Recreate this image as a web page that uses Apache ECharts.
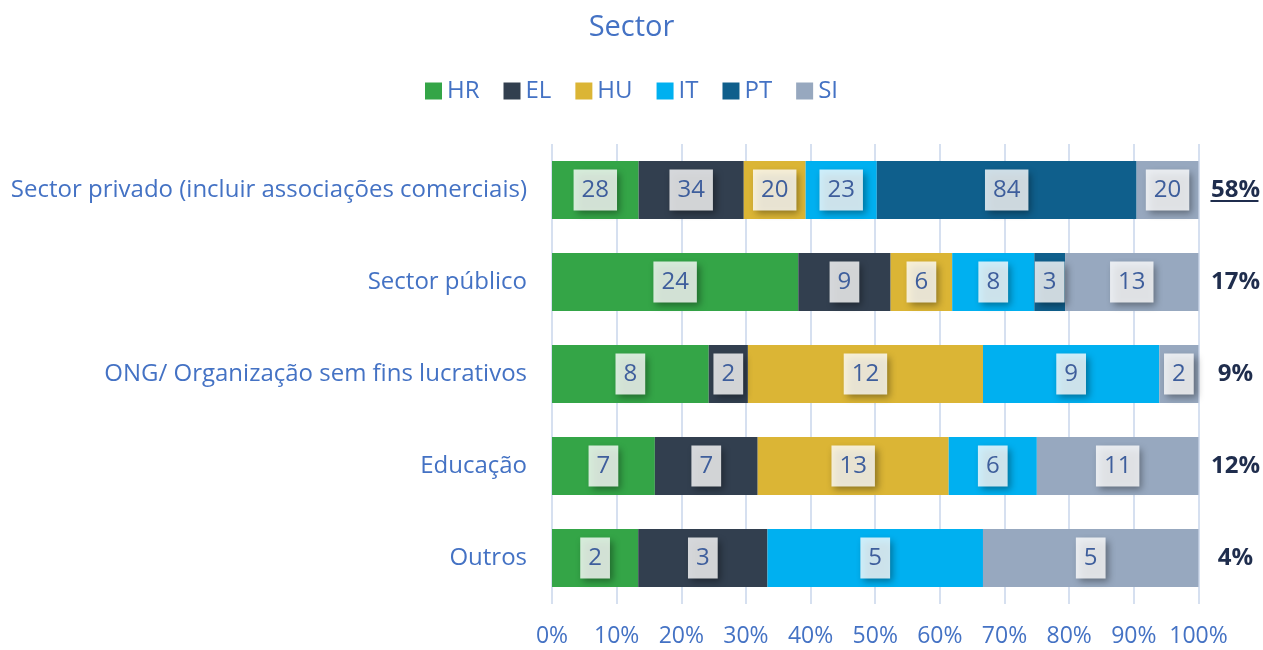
<!DOCTYPE html>
<html>
<head>
<meta charset="utf-8">
<script src="https://cdn.jsdelivr.net/npm/echarts@6/dist/echarts.min.js"></script>
<style>
  html, body { margin: 0; padding: 0; background: #fff; }
  #main { width: 1263px; height: 650px; }
</style>
</head>
<body>
<div id="main"></div>
<script>
var categories = ['Sector privado (incluir associações comerciais)', 'Sector público', 'ONG/ Organização sem fins lucrativos', 'Educação', 'Outros'];
var seriesNames = ['HR', 'EL', 'HU', 'IT', 'PT', 'SI'];
var hr = [28, 24, 8, 7, 2];
var el = [34, 9, 2, 7, 3];
var hu = [20, 6, 12, 13, 0];
var it = [23, 8, 9, 6, 5];
var pt = [84, 3, 0, 0, 0];
var si = [20, 13, 2, 11, 5];
var shareLabels = ['58%', '17%', '9%', '12%', '4%'];
var xTicks = ['0%', '10%', '20%', '30%', '40%', '50%', '60%', '70%', '80%', '90%', '100%'];

var colors = ['#34A547', '#323F4F', '#DBB535', '#00B0F0', '#0F5F8C', '#97A8BF'];
var counts = [hr, el, hu, it, pt, si];
var totals = categories.map(function (c, i) {
  return counts.reduce(function (s, arr) { return s + arr[i]; }, 0);
});

var chartDom = document.getElementById('main');
var myChart = echarts.init(chartDom);
var option;
var font = '"Open Sans", "Noto Sans", sans-serif';

var series = seriesNames.map(function (name, k) {
  return {
    name: name,
    type: 'bar',
    stack: 'total',
    barCategoryGap: '37%',
    itemStyle: { color: colors[k] },
    data: counts[k].map(function (v, i) {
      return { value: v / totals[i] * 100, count: v, label: { show: v > 0 } };
    }),
    label: {
      show: true,
      position: 'inside',
      formatter: function (p) { return String(p.data.count); },
      fontFamily: font,
      fontSize: 24,
      color: '#3E5E9C',
      backgroundColor: 'rgba(255,255,255,0.8)',
      padding: [9, 8, 8, 8],
      shadowColor: 'rgba(0,0,0,0.45)',
      shadowBlur: 7,
      shadowOffsetX: 3,
      shadowOffsetY: 3
    }
  };
});

option = {
  animation: false,
  textStyle: { fontFamily: font },
  title: {
    text: 'Sector',
    left: 'center',
    top: 8,
    textStyle: { fontFamily: font, fontSize: 29, fontWeight: 'normal', color: '#4472C4' }
  },
  legend: {
    data: seriesNames,
    top: 74,
    left: 'center',
    itemWidth: 17,
    itemHeight: 17,
    itemGap: 24,
    itemTextGap: 7,
    icon: 'rect',
    textStyle: { fontFamily: font, fontSize: 24, color: '#4472C4' }
  },
  grid: { left: 552, right: 64, top: 144, height: 460 },
  xAxis: {
    type: 'value',
    min: 0,
    max: 100,
    interval: 10,
    axisLine: { show: false },
    axisTick: { show: false },
    splitLine: { show: true, lineStyle: { color: '#D6E0F0', width: 2 } },
    axisLabel: {
      margin: 21,
      fontSize: 23,
      color: '#4472C4',
      fontFamily: font,
      formatter: function (v) { return xTicks[Math.round(v / 10)]; }
    }
  },
  yAxis: [
    {
      type: 'category',
      data: categories,
      inverse: true,
      axisLine: { show: false },
      axisTick: { show: false },
      axisLabel: { margin: 25, fontSize: 24, color: '#4472C4', fontFamily: font }
    },
    {
      type: 'category',
      data: shareLabels,
      inverse: true,
      position: 'right',
      axisLine: { show: false },
      axisTick: { show: false },
      axisLabel: {
        margin: 37,
        align: 'center',
        fontSize: 24,
        fontWeight: 'bold',
        color: '#1F2D4D',
        fontFamily: font
      }
    }
  ],
  series: series
};

option && myChart.setOption(option);

// underline the first share label
var pos = myChart.convertToPixel({ yAxisIndex: 1 }, shareLabels[0]);
var xEnd = myChart.convertToPixel({ xAxisIndex: 0 }, 100);
myChart.setOption({
  graphic: [{
    type: 'rect',
    shape: { x: xEnd + 12, y: pos + 10, width: 48, height: 2 },
    style: { fill: '#1F2D4D' }
  }]
});
</script>
</body>
</html>
